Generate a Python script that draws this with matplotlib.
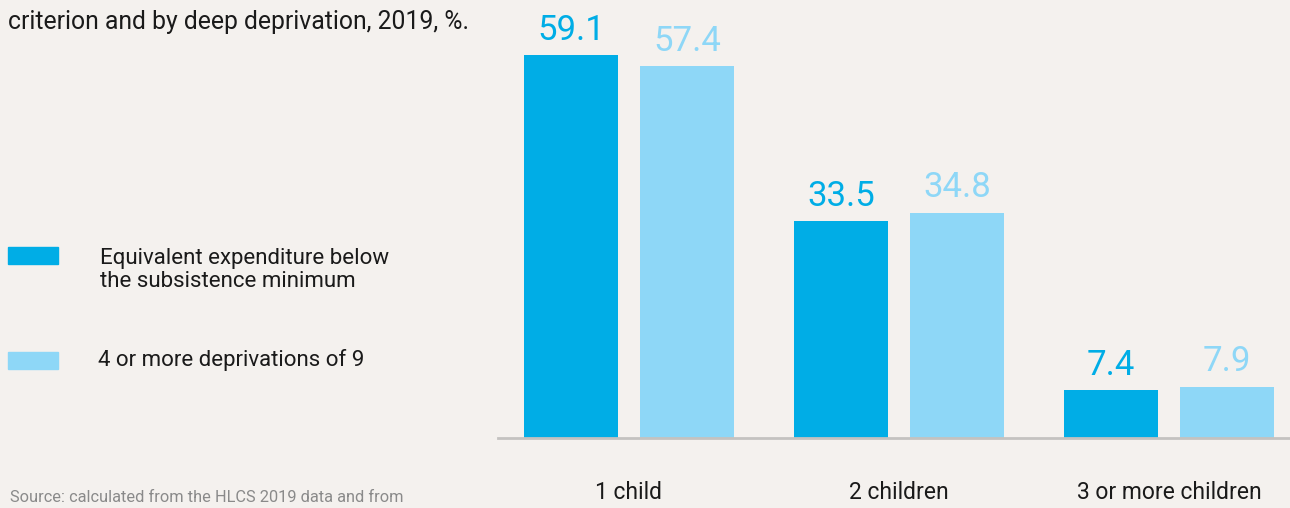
import matplotlib.pyplot as plt
import numpy as np

# chart data
categories = ['1 child', '2 children', '3 or more children']
below_minimum = [59.1, 33.5, 7.4]
deprivations = [57.4, 34.8, 7.9]
series_names = ['Equivalent expenditure below\nthe subsistence minimum', '4 or more deprivations of 9']

dark_blue = '#00ADE6'
light_blue = '#8ED7F7'
bg = '#F4F1EE'
narrow = ['Liberation Sans Narrow', 'Roboto', 'DejaVu Sans']

fig = plt.figure(figsize=(12.9, 5.08), dpi=100, facecolor=bg)
ax = fig.add_axes([498 / 1290, 70 / 508, 792 / 1290, 438 / 508])
ax.set_facecolor(bg)

x = np.arange(len(categories))
w = 0.348
off = 0.215
b1 = ax.bar(x - off, below_minimum, w, color=dark_blue)
b2 = ax.bar(x + off, deprivations, w, color=light_blue)

for bars, vals, c in [(b1, below_minimum, dark_blue), (b2, deprivations, light_blue)]:
    for bar, v in zip(bars, vals):
        ax.annotate(f'{v:.1f}', (bar.get_x() + bar.get_width() / 2, v),
                    xytext=(0, 6), textcoords='offset points', ha='center', va='bottom',
                    color=c, fontsize=25, family=narrow)

ax.set_xlim(-0.485, 2.448)
ax.set_ylim(0, 67.6)
ax.set_yticks([])
ax.set_xticks(x)
ax.set_xticklabels(categories, fontsize=16.5, family=narrow, color='#1a1a1a')
ax.tick_params(axis='x', length=0, pad=31)
for s in ['top', 'right', 'left']:
    ax.spines[s].set_visible(False)
ax.spines['bottom'].set_color('#C4C2C0')
ax.spines['bottom'].set_linewidth(2)

# title fragment, legend and source
fig.text(8 / 1290, 1 - 22 / 508, 'criterion and by deep deprivation, 2019, %.', fontsize=17.8,
         color='#1a1a1a', va='center', ha='left', family=['Roboto', 'DejaVu Sans'])

fig.patches.append(plt.Rectangle((8 / 1290, 1 - 264 / 508), 50 / 1290, 17 / 508,
                                 transform=fig.transFigure, color=dark_blue))
fig.patches.append(plt.Rectangle((8 / 1290, 1 - 369 / 508), 50 / 1290, 17 / 508,
                                 transform=fig.transFigure, color=light_blue))
fig.text(100 / 1290, 1 - 270 / 508, series_names[0], fontsize=16, family=narrow,
         color='#1a1a1a', va='center', ha='left', linespacing=1.15)
fig.text(98 / 1290, 1 - 360 / 508, series_names[1], fontsize=16, family=narrow,
         color='#1a1a1a', va='center', ha='left')

fig.text(10 / 1290, 1 - 497 / 508, 'Source: calculated from the HLCS 2019 data and from',
         fontsize=11.8, family=narrow, color='#8a8a8a', va='center', ha='left')

fig.savefig('out.png', dpi=100, facecolor=bg)
